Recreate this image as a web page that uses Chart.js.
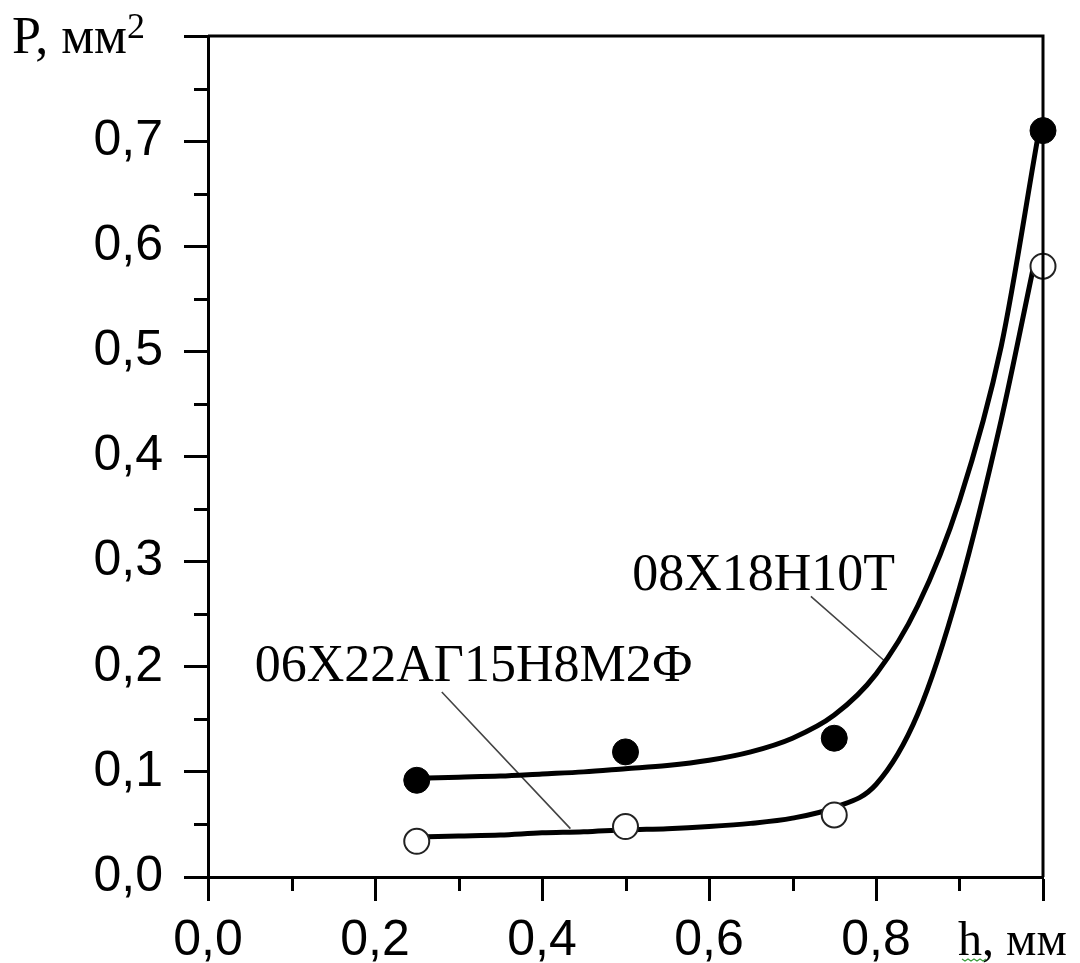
<!DOCTYPE html>
<html lang="ru">
<head>
  <meta charset="UTF-8">
  <title>P(h)</title>
  <script src="https://cdn.jsdelivr.net/npm/chart.js@4.4.0/dist/chart.umd.min.js"></script>
  <style>
    body { margin: 0; background: #fff; }
    #wrap { width: 1080px; height: 963px; }
  </style>
</head>
<body>
  <div id="wrap"><canvas id="chart"></canvas></div>
  <script>
    // measured points
    const hPoints = [0.25, 0.5, 0.75, 1.0];
    const pSteel1 = [0.092, 0.119, 0.132, 0.71];   // 08Х18Н10Т (filled)
    const pSteel2 = [0.034, 0.048, 0.059, 0.581];  // 06Х22АГ15Н8М2Ф (open)

    // fitted curves
    const fitH1 = [0.25, 0.3, 0.35, 0.4, 0.45, 0.5, 0.55, 0.6, 0.65, 0.7, 0.75, 0.8, 0.85, 0.9, 0.95, 0.993];
    const fitP1 = [0.094, 0.095, 0.096, 0.098, 0.100, 0.103, 0.106, 0.111, 0.119, 0.132, 0.154, 0.193, 0.258, 0.358, 0.505, 0.70];
    const fitH2 = [0.25, 0.3, 0.35, 0.4, 0.45, 0.5, 0.55, 0.6, 0.65, 0.7, 0.75, 0.8, 0.85, 0.9, 0.95, 0.988];
    const fitP2 = [0.038, 0.039, 0.040, 0.042, 0.043, 0.045, 0.046, 0.048, 0.051, 0.056, 0.066, 0.088, 0.155, 0.275, 0.435, 0.578];

    const xTickLabels = ['0,0', '0,2', '0,4', '0,6', '0,8', ''];
    const yTickLabels = ['0,0', '0,1', '0,2', '0,3', '0,4', '0,5', '0,6', '0,7', ''];

    const SERIF = '"Liberation Serif", "Times New Roman", serif';
    const SANS = '"Liberation Sans", Arial, sans-serif';

    const toXY = (xs, ys) => xs.map((x, i) => ({ x: x, y: ys[i] }));

    const extras = {
      id: 'extras',
      beforeDatasetsDraw(chart) {
        const ctx = chart.ctx;
        const x = chart.scales.x, y = chart.scales.y;
        // pointer lines for the curve labels
        ctx.save();
        ctx.strokeStyle = '#444';
        ctx.lineWidth = 1.6;
        ctx.beginPath();
        ctx.moveTo(x.getPixelForValue(0.722), y.getPixelForValue(0.267));
        ctx.lineTo(x.getPixelForValue(0.811), y.getPixelForValue(0.205));
        ctx.moveTo(x.getPixelForValue(0.280), y.getPixelForValue(0.176));
        ctx.lineTo(x.getPixelForValue(0.434), y.getPixelForValue(0.046));
        ctx.stroke();
        ctx.restore();
      },
      afterDraw(chart) {
        const ctx = chart.ctx;
        const a = chart.chartArea;
        const x = chart.scales.x, y = chart.scales.y;
        ctx.save();
        // frame top and right
        ctx.strokeStyle = '#000';
        ctx.lineWidth = 3;
        ctx.beginPath();
        ctx.moveTo(a.left, a.top);
        ctx.lineTo(a.right, a.top);
        ctx.lineTo(a.right, a.bottom);
        ctx.stroke();
        // minor ticks
        ctx.beginPath();
        for (let v = 0.05; v < 0.8; v += 0.1) {
          const py = Math.round(y.getPixelForValue(v)) + 0.5;
          ctx.moveTo(a.left - 14, py);
          ctx.lineTo(a.left, py);
        }
        for (let v = 0.1; v < 1.0; v += 0.2) {
          const px = Math.round(x.getPixelForValue(v)) + 0.5;
          ctx.moveTo(px, a.bottom);
          ctx.lineTo(px, a.bottom + 14);
        }
        ctx.stroke();

        // texts
        ctx.fillStyle = '#000';
        ctx.textBaseline = 'alphabetic';
        ctx.textAlign = 'left';
        ctx.font = '52px ' + SERIF;
        ctx.fillText('08Х18Н10Т', x.getPixelForValue(0.508), y.getPixelForValue(0.273));
        ctx.fillText('06Х22АГ15Н8М2Ф', x.getPixelForValue(0.056), y.getPixelForValue(0.186));

        ctx.font = '52px ' + SERIF;
        ctx.fillText('P, мм', 12, 53);
        const w = ctx.measureText('P, мм').width;
        ctx.font = '36px ' + SERIF;
        ctx.fillText('2', 12 + w, 38);

        ctx.font = '48px ' + SERIF;
        ctx.fillText('h, мм', 958, 955);
        // spell-check squiggle under h
        ctx.strokeStyle = '#3a9a3a';
        ctx.lineWidth = 1.2;
        ctx.beginPath();
        for (let i = 0; i <= 8; i++) {
          const px = 962 + i * 3;
          const py = 959 + (i % 2 ? 2 : 0);
          if (i === 0) ctx.moveTo(px, py); else ctx.lineTo(px, py);
        }
        ctx.stroke();
        ctx.restore();
      }
    };

    new Chart(document.getElementById('chart'), {
      type: 'scatter',
      data: {
        datasets: [
          {
            label: '08Х18Н10Т',
            data: toXY(hPoints, pSteel1),
            backgroundColor: '#000',
            borderColor: '#000',
            pointRadius: 13,
            borderWidth: 1,
            clip: false,
            order: 0
          },
          {
            label: '06Х22АГ15Н8М2Ф',
            data: toXY(hPoints, pSteel2),
            backgroundColor: '#fff',
            borderColor: '#222',
            pointRadius: 12.5,
            borderWidth: 2,
            clip: false,
            order: 0
          },
          {
            type: 'line',
            data: toXY(fitH1, fitP1),
            borderColor: '#000',
            borderWidth: 5,
            pointRadius: 0,
            cubicInterpolationMode: 'monotone',
            fill: false,
            clip: false,
            order: 1
          },
          {
            type: 'line',
            data: toXY(fitH2, fitP2),
            borderColor: '#000',
            borderWidth: 5,
            pointRadius: 0,
            cubicInterpolationMode: 'monotone',
            fill: false,
            clip: false,
            order: 1
          }
        ]
      },
      options: {
        responsive: true,
        maintainAspectRatio: false,
        animation: false,
        layout: { padding: { top: 36, right: 37, left: 0, bottom: 0 } },
        plugins: { legend: { display: false }, tooltip: { enabled: false } },
        scales: {
          x: {
            type: 'linear',
            min: 0, max: 1,
            afterFit: s => { s.height = 86; s.paddingLeft = 0; s.paddingRight = 0; },
            ticks: {
              stepSize: 0.2,
              maxRotation: 0,
              padding: 10,
              color: '#000',
              font: { family: SANS, size: 50 },
              callback: (v, i) => xTickLabels[i]
            },
            grid: { drawOnChartArea: false, drawTicks: true, tickLength: 24, tickWidth: 3, tickColor: '#000' },
            border: { display: true, width: 3, color: '#000' }
          },
          y: {
            type: 'linear',
            min: 0, max: 0.8,
            afterFit: s => { s.width = 208; s.paddingTop = 0; s.paddingBottom = 0; },
            ticks: {
              stepSize: 0.1,
              padding: 21,
              color: '#000',
              font: { family: SANS, size: 50 },
              callback: (v, i) => yTickLabels[i]
            },
            grid: { drawOnChartArea: false, drawTicks: true, tickLength: 24, tickWidth: 3, tickColor: '#000' },
            border: { display: true, width: 3, color: '#000' }
          }
        }
      },
      plugins: [extras]
    });
  </script>
</body>
</html>
